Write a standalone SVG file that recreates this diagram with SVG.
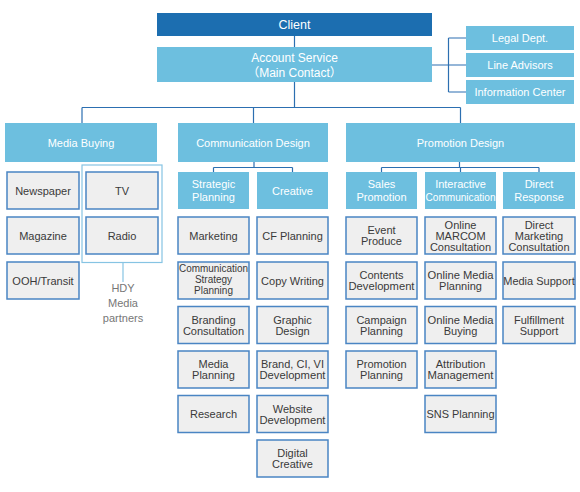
<svg xmlns="http://www.w3.org/2000/svg" width="580" height="492" viewBox="0 0 580 492">
<style>
text{font-family:"Liberation Sans",Arial,"Noto Sans CJK JP",sans-serif;text-anchor:middle}
.hd{fill:#6dbfdf}
.hdt{fill:#ffffff;font-size:11px}
.bx{fill:#efefef;stroke:#4a85c3;stroke-width:1.5}
.bt{fill:#3a3a3a;font-size:11px}
.sm{font-size:10px}
.cn{fill:none;stroke:#2c6fb1;stroke-width:1.2}
.fr{fill:none;stroke:#86c4e3;stroke-width:1.2}
</style>
<g id="connectors">
<path class="cn" d="M294.5 36V47M294.5 82V107.5M82 107.5H460.5M82 107.5V123M253.5 107.5V123M460.5 107.5V123"/>
<path class="cn" d="M432 65H466M448.5 38V92M448.5 38H466M448.5 92H466"/>
<path class="cn" d="M254 162V167.5M213.5 167.5H292.5M213.5 167.5V172M292.5 167.5V172"/>
<path class="cn" d="M459.5 162V167.5M381.5 167.5H539M381.5 167.5V172M460.5 167.5V172M539 167.5V172"/>
<path class="fr" d="M123 262.5V282"/>
</g>
<g id="client"><rect x="157" y="13" width="275" height="23" fill="#1c6eb0"/><text x="294.5" y="29" fill="#fff" font-size="12.5px">Client</text></g>
<g id="account"><rect class="hd" x="157" y="47" width="275" height="35"/><text class="hdt" x="294.5" y="62" font-size="12px" style="font-size:12px">Account Service</text><text class="hdt" x="294.5" y="77" style="font-size:12px">（Main Contact）</text></g>
<g id="legal"><rect class="hd" x="466" y="26" width="108" height="24"/><text class="hdt" x="520" y="42">Legal Dept.</text></g>
<g id="line-advisors"><rect class="hd" x="466" y="53" width="108" height="24"/><text class="hdt" x="520" y="69">Line Advisors</text></g>
<g id="info-center"><rect class="hd" x="466" y="80" width="108" height="24"/><text class="hdt" x="520" y="96">Information Center</text></g>

<g id="media-buying"><rect class="hd" x="5" y="123" width="152" height="39"/><text class="hdt" x="81" y="146.5">Media Buying</text></g>
<g id="communication-design"><rect class="hd" x="178" y="123" width="150" height="39"/><text class="hdt" x="253" y="146.5">Communication Design</text></g>
<g id="promotion-design"><rect class="hd" x="346" y="123" width="229" height="39"/><text class="hdt" x="460.5" y="146.5">Promotion Design</text></g>

<g id="strategic-planning"><rect class="hd" x="178" y="172" width="71" height="37"/><text class="hdt" x="213.5" y="188">Strategic</text><text class="hdt" x="213.5" y="201">Planning</text></g>
<g id="creative"><rect class="hd" x="257" y="172" width="71" height="37"/><text class="hdt" x="292.5" y="194.5">Creative</text></g>
<g id="sales-promotion"><rect class="hd" x="346" y="172" width="71" height="37"/><text class="hdt" x="381.5" y="188">Sales</text><text class="hdt" x="381.5" y="201">Promotion</text></g>
<g id="interactive-communication"><rect class="hd" x="425" y="172" width="71" height="37"/><text class="hdt" x="460.5" y="188">Interactive</text><text class="hdt" x="460.5" y="201" textLength="70" lengthAdjust="spacingAndGlyphs">Communication</text></g>
<g id="direct-response"><rect class="hd" x="503" y="172" width="72" height="37"/><text class="hdt" x="539" y="188">Direct</text><text class="hdt" x="539" y="201">Response</text></g>

<g id="hdy-frame"><rect class="fr" x="82" y="165" width="80" height="97.5"/><text x="123" y="292" fill="#777" font-size="11px">HDY</text><text x="123" y="307" fill="#777" font-size="11px">Media</text><text x="123" y="322" fill="#777" font-size="11px">partners</text></g>

<g id="newspaper"><rect class="bx" x="7" y="172" width="72" height="37"/><text class="bt" x="43" y="194.5">Newspaper</text></g>
<g id="magazine"><rect class="bx" x="7" y="217" width="72" height="37"/><text class="bt" x="43" y="239.5">Magazine</text></g>
<g id="ooh-transit"><rect class="bx" x="7" y="262" width="72" height="37"/><text class="bt" x="43" y="284.5">OOH/Transit</text></g>
<g id="tv"><rect class="bx" x="86" y="172" width="72" height="37"/><text class="bt" x="122" y="194.5">TV</text></g>
<g id="radio"><rect class="bx" x="86" y="217" width="72" height="37"/><text class="bt" x="122" y="239.5">Radio</text></g>

<g id="marketing"><rect class="bx" x="178" y="217" width="71" height="37"/><text class="bt" x="213.5" y="239.5">Marketing</text></g>
<g id="comm-strategy-planning"><rect class="bx" x="178" y="262" width="71" height="37"/><text class="bt sm" x="213.5" y="272" textLength="69" lengthAdjust="spacingAndGlyphs">Communication</text><text class="bt sm" x="213.5" y="283">Strategy</text><text class="bt sm" x="213.5" y="294">Planning</text></g>
<g id="branding-consultation"><rect class="bx" x="178" y="306.5" width="71" height="37"/><text class="bt" x="213.5" y="323.5">Branding</text><text class="bt" x="213.5" y="334.5">Consultation</text></g>
<g id="media-planning"><rect class="bx" x="178" y="351" width="71" height="37"/><text class="bt" x="213.5" y="368">Media</text><text class="bt" x="213.5" y="379">Planning</text></g>
<g id="research"><rect class="bx" x="178" y="395.5" width="71" height="37"/><text class="bt" x="213.5" y="418">Research</text></g>

<g id="cf-planning"><rect class="bx" x="257" y="217" width="71" height="37"/><text class="bt" x="292.5" y="239.5">CF Planning</text></g>
<g id="copy-writing"><rect class="bx" x="257" y="262" width="71" height="37"/><text class="bt" x="292.5" y="284.5">Copy Writing</text></g>
<g id="graphic-design"><rect class="bx" x="257" y="306.5" width="71" height="37"/><text class="bt" x="292.5" y="323.5">Graphic</text><text class="bt" x="292.5" y="334.5">Design</text></g>
<g id="brand-ci-vi"><rect class="bx" x="257" y="351" width="71" height="37"/><text class="bt" x="292.5" y="368">Brand, CI, VI</text><text class="bt" x="292.5" y="379" textLength="66" lengthAdjust="spacingAndGlyphs">Development</text></g>
<g id="website-development"><rect class="bx" x="257" y="395.5" width="71" height="37"/><text class="bt" x="292.5" y="412.5">Website</text><text class="bt" x="292.5" y="423.5" textLength="66" lengthAdjust="spacingAndGlyphs">Development</text></g>
<g id="digital-creative"><rect class="bx" x="257" y="440" width="71" height="37"/><text class="bt" x="292.5" y="457">Digital</text><text class="bt" x="292.5" y="468">Creative</text></g>

<g id="event-produce"><rect class="bx" x="346" y="217" width="71" height="37"/><text class="bt" x="381.5" y="234">Event</text><text class="bt" x="381.5" y="245">Produce</text></g>
<g id="contents-development"><rect class="bx" x="346" y="262" width="71" height="37"/><text class="bt" x="381.5" y="279">Contents</text><text class="bt" x="381.5" y="290" textLength="66" lengthAdjust="spacingAndGlyphs">Development</text></g>
<g id="campaign-planning"><rect class="bx" x="346" y="306.5" width="71" height="37"/><text class="bt" x="381.5" y="323.5">Campaign</text><text class="bt" x="381.5" y="334.5">Planning</text></g>
<g id="promotion-planning"><rect class="bx" x="346" y="351" width="71" height="37"/><text class="bt" x="381.5" y="368">Promotion</text><text class="bt" x="381.5" y="379">Planning</text></g>

<g id="online-marcom"><rect class="bx" x="425" y="217" width="71" height="37"/><text class="bt" x="460.5" y="228.5">Online</text><text class="bt" x="460.5" y="239.5">MARCOM</text><text class="bt" x="460.5" y="250.5">Consultation</text></g>
<g id="online-media-planning"><rect class="bx" x="425" y="262" width="71" height="37"/><text class="bt" x="460.5" y="279" textLength="66" lengthAdjust="spacingAndGlyphs">Online Media</text><text class="bt" x="460.5" y="290">Planning</text></g>
<g id="online-media-buying"><rect class="bx" x="425" y="306.5" width="71" height="37"/><text class="bt" x="460.5" y="323.5" textLength="66" lengthAdjust="spacingAndGlyphs">Online Media</text><text class="bt" x="460.5" y="334.5">Buying</text></g>
<g id="attribution-management"><rect class="bx" x="425" y="351" width="71" height="37"/><text class="bt" x="460.5" y="368">Attribution</text><text class="bt" x="460.5" y="379" textLength="66" lengthAdjust="spacingAndGlyphs">Management</text></g>
<g id="sns-planning"><rect class="bx" x="425" y="395.5" width="71" height="37"/><text class="bt" x="460.5" y="418" textLength="68" lengthAdjust="spacingAndGlyphs">SNS Planning</text></g>

<g id="direct-marketing"><rect class="bx" x="503" y="217" width="72" height="37"/><text class="bt" x="539" y="228.5">Direct</text><text class="bt" x="539" y="239.5">Marketing</text><text class="bt" x="539" y="250.5">Consultation</text></g>
<g id="media-support"><rect class="bx" x="503" y="262" width="72" height="37"/><text class="bt" x="539" y="284.5">Media Support</text></g>
<g id="fulfillment-support"><rect class="bx" x="503" y="306.5" width="72" height="37"/><text class="bt" x="539" y="323.5">Fulfillment</text><text class="bt" x="539" y="334.5">Support</text></g>
</svg>
